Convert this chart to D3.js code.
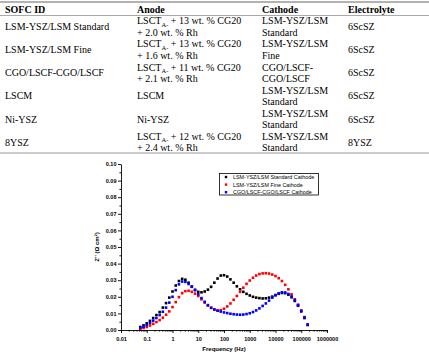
<html>
<head>
<meta charset="utf-8">
<style>
  body { margin: 0; background: #fff; }
  svg { display: block; }
</style>
</head>
<body>
<svg id="chart" width="429" height="355"></svg>
<script src="https://d3js.org/d3.v7.min.js"></script>
<script>
// ---- table content ----
const tableHeaders = ["SOFC ID", "Anode", "Cathode", "Electrolyte"];
const sofcIds = ["LSM-YSZ/LSM Standard", "LSM-YSZ/LSM Fine", "CGO/LSCF-CGO/LSCF", "LSCM", "Ni-YSZ", "8YSZ"];
// {..} marks a subscript
const anodes = [
  ["LSCT{A-} + 13 wt. % CG20", "+ 2.0 wt. % Rh"],
  ["LSCT{A-} + 13 wt. % CG20", "+ 1.6 wt. % Rh"],
  ["LSCT{A-} + 11 wt. % CG20", "+ 2.1 wt. % Rh"],
  ["LSCM"],
  ["Ni-YSZ"],
  ["LSCT{A-} + 12 wt. % CG20", "+ 2.4 wt. % Rh"]
];
const cathodes = [
  ["LSM-YSZ/LSM", "Standard"],
  ["LSM-YSZ/LSM", "Fine"],
  ["CGO/LSCF-", "CGO/LSCF"],
  ["LSM-YSZ/LSM", "Standard"],
  ["LSM-YSZ/LSM", "Standard"],
  ["LSM-YSZ/LSM", "Standard"]
];
const electrolytes = ["6ScSZ", "6ScSZ", "6ScSZ", "6ScSZ", "6ScSZ", "8YSZ"];

// ---- chart data ----
const freq = [0.0562, 0.0750, 0.1, 0.1334, 0.1778, 0.2371, 0.3162, 0.4217, 0.5623, 0.7499,
  1, 1.334, 1.778, 2.371, 3.162, 4.217, 5.623, 7.499,
  10, 13.34, 17.78, 23.71, 31.62, 42.17, 56.23, 74.99,
  100, 133.4, 177.8, 237.1, 316.2, 421.7, 562.3, 749.9,
  1000, 1334, 1778, 2371, 3162, 4217, 5623, 7499,
  10000, 13335, 17783, 23714, 31623, 42170, 56234, 74989,
  100000, 133352, 177828];
const zStandard = [0.0018, 0.0028, 0.0040, 0.0055, 0.0072, 0.0090, 0.0108, 0.0135, 0.0162, 0.0195,
  0.0232, 0.0268, 0.0295, 0.0308, 0.0303, 0.0285, 0.0262, 0.0242,
  0.0230, 0.0227, 0.0232, 0.0243, 0.0260, 0.0285, 0.0310, 0.0328,
  0.0330, 0.0322, 0.0305, 0.0285, 0.0263, 0.0245, 0.0230, 0.0218,
  0.0208, 0.0200, 0.0195, 0.0192, 0.0190, 0.0191, 0.0195, 0.0201,
  0.0210, 0.0218, 0.0223, 0.0222, 0.0213, 0.0197, 0.0175, 0.0146,
  0.0112, 0.0072, 0.0030];
const zFine = [0.0008, 0.0012, 0.0018, 0.0027, 0.0037, 0.0048, 0.0060, 0.0074, 0.0092, 0.0112,
  0.0138, 0.0168, 0.0198, 0.0222, 0.0234, 0.0236, 0.0230, 0.0219,
  0.0205, 0.0185, 0.0165, 0.0147, 0.0133, 0.0123, 0.0118, 0.0119,
  0.0128, 0.0142, 0.0160, 0.0182, 0.0205, 0.0230, 0.0255, 0.0278,
  0.0298, 0.0315, 0.0328, 0.0337, 0.0341, 0.0342, 0.0340, 0.0334,
  0.0325, 0.0312, 0.0295, 0.0272, 0.0245, 0.0215, 0.0185, 0.0152,
  0.0118, 0.0078, 0.0034];
const zCgo = [0.0012, 0.0020, 0.0030, 0.0042, 0.0056, 0.0072, 0.0090, 0.0110, 0.0135, 0.0165,
  0.0200, 0.0240, 0.0275, 0.0292, 0.0290, 0.0277, 0.0260, 0.0240,
  0.0215, 0.0192, 0.0170, 0.0150, 0.0134, 0.0124, 0.0116, 0.0111,
  0.0106, 0.0102, 0.0098, 0.0095, 0.0093, 0.0092, 0.0093, 0.0096,
  0.0101, 0.0108, 0.0118, 0.0130, 0.0145, 0.0160, 0.0177, 0.0195,
  0.0210, 0.0221, 0.0227, 0.0226, 0.0217, 0.0202, 0.0180, 0.0150,
  0.0115, 0.0075, 0.0032];
const seriesNames = ["LSM-YSZ/LSM Standard Cathode", "LSM-YSZ/LSM Fine Cathode", "CGO/LSCF-CGO/LSCF Cathode"];
const seriesValues = [zStandard, zFine, zCgo];

const xTicks = [0.01, 0.1, 1, 10, 100, 1000, 10000, 100000, 1000000];
const xTickLabels = ["0.01", "0.1", "1", "10", "100", "1000", "10000", "100000", "1000000"];
const yTicks = [0, 0.01, 0.02, 0.03, 0.04, 0.05, 0.06, 0.07, 0.08, 0.09, 0.10];

const colors = ["#000000", "#ff0000", "#0000ff"];

var svg = d3.select("#chart");
svg.append("rect").attr("width", 429).attr("height", 355).attr("fill", "#fff");

// ---------------- table ----------------
var serif = "'Liberation Serif', 'Times New Roman', serif";
var colX = [5, 137, 262, 348];
var tbl = svg.append("g").attr("font-family", serif).attr("font-size", 10).attr("fill", "#000");

tbl.append("line").attr("x1", 0).attr("x2", 429).attr("y1", 2).attr("y2", 2)
  .attr("stroke", "#999").attr("stroke-width", 1.6);
tbl.append("line").attr("x1", 0).attr("x2", 429).attr("y1", 15.5).attr("y2", 15.5)
  .attr("stroke", "#aaa").attr("stroke-width", 1);
tbl.append("line").attr("x1", 0).attr("x2", 429).attr("y1", 153).attr("y2", 153)
  .attr("stroke", "#999").attr("stroke-width", 1);

tbl.selectAll("text.hd").data(tableHeaders).enter().append("text")
  .attr("class", "hd")
  .attr("x", function(d, i) { return colX[i]; })
  .attr("y", 12.8)
  .attr("font-weight", "bold")
  .text(function(d) { return d; });

function cellText(x, c, lines) {
  var n = lines.length;
  lines.forEach(function(line, k) {
    var cy = c + (k - (n - 1) / 2) * 11.6;
    var t = tbl.append("text").attr("x", x).attr("y", cy + 3.3);
    line.split(/[{}]/).forEach(function(part, j) {
      if (part === "") return;
      var s = t.append("tspan").text(part);
      if (j % 2 === 1) s.attr("font-size", 6.5).attr("dy", 2.2);
      else if (j > 0) s.attr("dy", -2.2);
    });
  });
}

sofcIds.forEach(function(id, i) {
  var c = 26.8 + 23.1 * i;
  cellText(colX[0], c, [id]);
  cellText(colX[1], c, anodes[i]);
  cellText(colX[2], c, cathodes[i]);
  cellText(colX[3], c, [electrolytes[i]]);
});

// ---------------- chart ----------------
var sans = "'Liberation Sans', Arial, sans-serif";
var x = d3.scaleLog().domain([0.01, 1000000]).range([121, 327]);
var y = d3.scaleLinear().domain([0, 0.10]).range([330, 164]);

var xMinor = [];
xTicks.slice(0, -1).forEach(function(d) {
  for (var k = 2; k < 10; k++) xMinor.push(d * k);
});
var yMinor = yTicks.slice(0, -1).map(function(d) { return d + 0.005; });

function styleAxis(g) {
  g.attr("font-family", sans).attr("font-size", 5.5).attr("font-weight", "bold");
  g.selectAll("path, line").attr("stroke", "#000").attr("stroke-width", 0.9);
}

var gx = svg.append("g").attr("transform", "translate(0,330)")
  .call(d3.axisBottom(x).tickValues(xTicks)
    .tickFormat(function(d, i) { return xTickLabels[i]; })
    .tickSize(3).tickSizeOuter(0).tickPadding(4));
styleAxis(gx);
var gxm = svg.append("g").attr("transform", "translate(0,330)")
  .call(d3.axisBottom(x).tickValues(xMinor).tickFormat("").tickSize(1.6));
gxm.select(".domain").remove();
styleAxis(gxm);

var gy = svg.append("g").attr("transform", "translate(121,0)")
  .call(d3.axisLeft(y).tickValues(yTicks).tickFormat(d3.format(".2f"))
    .tickSize(3).tickSizeOuter(0).tickPadding(1.5));
styleAxis(gy);
var gym = svg.append("g").attr("transform", "translate(121,0)")
  .call(d3.axisLeft(y).tickValues(yMinor).tickFormat("").tickSize(1.6));
gym.select(".domain").remove();
styleAxis(gym);

svg.append("text").attr("x", 224).attr("y", 351)
  .attr("text-anchor", "middle").attr("font-family", sans)
  .attr("font-size", 6).attr("font-weight", "bold")
  .text("Frequency (Hz)");
svg.append("text").attr("transform", "translate(99,247) rotate(-90)")
  .attr("text-anchor", "middle").attr("font-family", sans)
  .attr("font-size", 6).attr("font-weight", "bold")
  .text("Z'' (\u03A9 cm\u00B2)");

// points
seriesValues.forEach(function(vals, s) {
  svg.append("g").selectAll("rect").data(vals).enter().append("rect")
    .attr("x", function(d, i) { return x(freq[i]) - 1.3; })
    .attr("y", function(d) { return y(d) - 1.3; })
    .attr("width", 2.6).attr("height", 2.6)
    .attr("fill", colors[s]);
});

// legend
var lg = svg.append("g").attr("font-family", sans).attr("font-size", 5.4);
lg.append("rect").attr("x", 219.5).attr("y", 173.5).attr("width", 99).attr("height", 21.5)
  .attr("fill", "#fff").attr("stroke", "#000").attr("stroke-width", 0.8);
seriesNames.forEach(function(name, i) {
  var cy = 177 + i * 7.6;
  lg.append("rect").attr("x", 224.8).attr("y", cy - 1.2).attr("width", 2.4).attr("height", 2.4)
    .attr("fill", colors[i]);
  lg.append("text").attr("x", 233).attr("y", cy + 1.9).text(name);
});
</script>
</body>
</html>
